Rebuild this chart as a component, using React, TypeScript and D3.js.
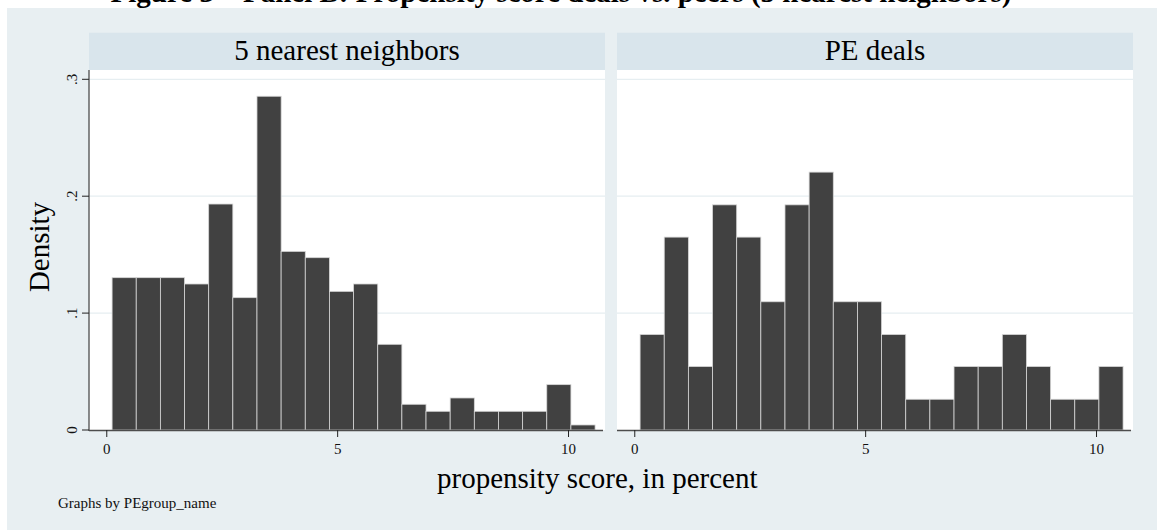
import React from "react";
import * as d3 from "d3";

// ---- Data ----
const panelTitles = ["5 nearest neighbors", "PE deals"];
const binMids = [0.3765, 0.8995, 1.4225, 1.9455, 2.4685, 2.9915, 3.5145, 4.0375, 4.5605, 5.0835, 5.6065, 6.1295, 6.6525, 7.1755, 7.6985, 8.2215, 8.7445, 9.2675, 9.7905, 10.3135];
const binWidth = 0.523;
const nearestDensity = [0.1303, 0.1303, 0.1303, 0.1249, 0.1933, 0.1132, 0.2855, 0.1528, 0.1474, 0.1186, 0.1249, 0.0733, 0.022, 0.016, 0.0274, 0.016, 0.016, 0.016, 0.0388, 0.0043];
const peDensity = [0.0817, 0.165, 0.0543, 0.1926, 0.165, 0.1097, 0.1926, 0.2206, 0.1097, 0.1097, 0.0817, 0.0263, 0.0263, 0.0543, 0.0543, 0.0817, 0.0543, 0.0263, 0.0263, 0.0543];
const xTicks = [0, 5, 10];
const yTicks = [0, 0.1, 0.2, 0.3];
const yTickLabels = ["0", ".1", ".2", ".3"];
const titleText = "Figure 3 – Panel B: Propensity score deals vs. peers (5 nearest neighbors)";
const xTitle = "propensity score, in percent";
const yTitle = "Density";
const noteText = "Graphs by PEgroup_name";

const W = 1157;
const H = 530;
const FONT = "'Liberation Serif', 'Times New Roman', serif";
const BG = "#e8eff2";
const STRIP = "#d9e5ec";
const GRID = "#e6eef1";
const AXIS = "#4d4d4d";

const panelX = [89, 617];
const panelW = 516;
const plotTop = 70;
const plotBottom = 430;

export default function App() {
  const y = d3.scaleLinear().domain([0, 0.3]).range([plotBottom, 79.3]);
  const series = [nearestDensity, peDensity];

  return (
    <svg width={W} height={H} style={{ position: "absolute", left: 0, top: 0 }} fontFamily={FONT}>
      <rect x={0} y={0} width={W} height={H} fill="#ffffff" />
      <rect x={7} y={8} width={W - 7} height={H - 8} fill={BG} />
      <text x={561} y={2} textAnchor="middle" fontSize={29} fontWeight="bold" fill="#000">{titleText}</text>

      {series.map((vals, pi) => {
        const x0 = panelX[pi];
        const x = d3.scaleLinear().domain([-0.385, 10.79]).range([x0, x0 + panelW]);
        return (
          <g key={pi}>
            <rect x={x0} y={32.7} width={panelW} height={37.3} fill={STRIP} />
            <text x={x0 + panelW / 2} y={60} textAnchor="middle" fontSize={29} fill="#000">{panelTitles[pi]}</text>
            <rect x={x0} y={plotTop} width={panelW} height={plotBottom - plotTop} fill="#ffffff" />
            {yTicks.filter((t) => t > 0).map((t) => (
              <line key={t} x1={x0} x2={x0 + panelW} y1={y(t)} y2={y(t)} stroke={GRID} strokeWidth={1.2} />
            ))}
            {vals.map((v, i) => (
              <rect
                key={i}
                x={x(binMids[i] - binWidth / 2)}
                y={y(v)}
                width={x(binMids[i] + binWidth / 2) - x(binMids[i] - binWidth / 2)}
                height={y(0) - y(v)}
                fill="#414141"
                stroke="#d6d6d6"
                strokeWidth={0.8}
              />
            ))}
            <line x1={x0} x2={x0 + panelW - 2} y1={plotBottom + 0.5} y2={plotBottom + 0.5} stroke={AXIS} strokeWidth={1.3} />
            {xTicks.map((t) => (
              <g key={t}>
                <line x1={x(t)} x2={x(t)} y1={plotBottom} y2={plotBottom + 7} stroke="#222" strokeWidth={1} />
                <text x={x(t)} y={454} textAnchor="middle" fontSize={15} fill="#111">{t}</text>
              </g>
            ))}
            {pi === 0 && (
              <g>
                <line x1={x0} x2={x0} y1={plotTop} y2={plotBottom + 1} stroke={AXIS} strokeWidth={1.3} />
                {yTicks.map((t, i) => (
                  <g key={t}>
                    <line x1={x0 - 7} x2={x0} y1={y(t)} y2={y(t)} stroke="#222" strokeWidth={1} />
                    <text transform={`translate(77,${y(t)}) rotate(-90)`} textAnchor="middle" fontSize={15} fill="#111">{yTickLabels[i]}</text>
                  </g>
                ))}
              </g>
            )}
          </g>
        );
      })}

      <text transform="translate(49,247) rotate(-90)" textAnchor="middle" fontSize={29} fill="#000">{yTitle}</text>
      <text x={437} y={488} fontSize={29} fill="#000">{xTitle}</text>
      <text x={58} y={508} fontSize={15} fill="#111">{noteText}</text>
    </svg>
  );
}
